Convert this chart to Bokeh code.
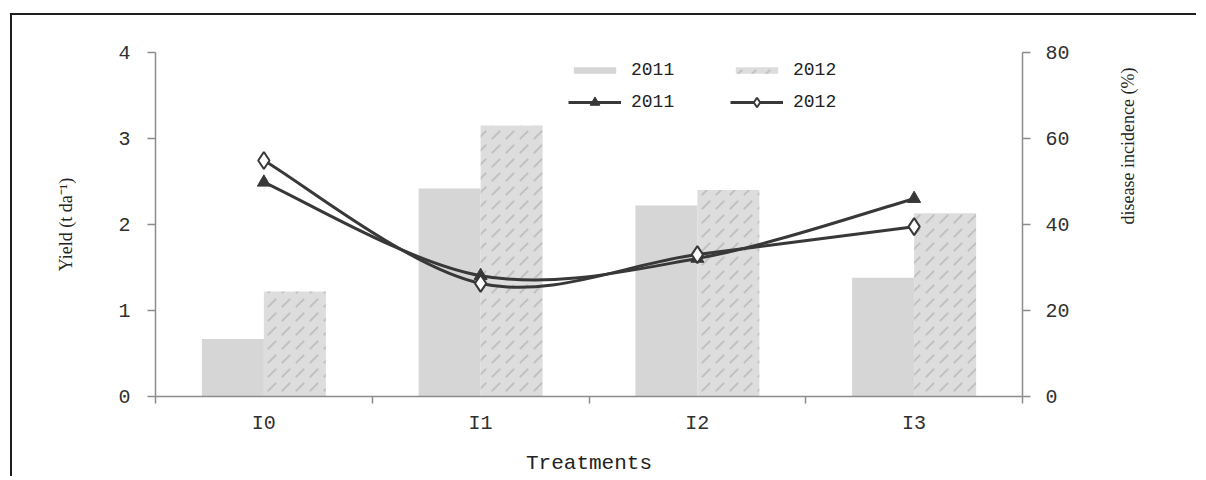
from math import pi
from bokeh.plotting import figure
from bokeh.models import Range1d, LinearAxis, FixedTicker, Legend, LegendItem
from bokeh.embed import file_html
from bokeh.resources import INLINE

# ---- data ----
treatments = ["I0", "I1", "I2", "I3"]
yield_2011 = [0.67, 2.42, 2.22, 1.38]
yield_2012 = [1.22, 3.15, 2.40, 2.13]
disease_2011 = [49.8, 28.1, 32.1, 46.0]
disease_2012 = [54.9, 26.3, 33.0, 39.5]
yield_ticks = [0, 1, 2, 3, 4]
disease_ticks = [0, 20, 40, 60, 80]
series_labels = ["2011", "2012"]

n = len(treatments)
centers = list(range(n))
bounds = [i - 0.5 for i in range(n + 1)]
bw = 0.286

MONO = "Liberation Mono"
SERIF = "Liberation Serif"
AX = "#8c8c8c"
LINE = "#383838"

p = figure(width=1186, height=463, x_range=Range1d(-0.5, n - 0.5),
           y_range=Range1d(0, 4), output_backend="svg", toolbar_location=None,
           min_border_left=143, min_border_right=176, min_border_top=37,
           min_border_bottom=82)
p.styles = {"margin-left": "10px", "margin-top": "13px",
            "border-left": "2px solid #1e1e1e", "border-top": "2px solid #1e1e1e"}
p.outline_line_color = None
p.grid.visible = False
p.background_fill_color = "white"

# bars
b1 = p.vbar(x=[c - bw / 2 for c in centers], top=yield_2011, width=bw,
            fill_color="#d6d6d6", line_color=None)
b2 = p.vbar(x=[c + bw / 2 for c in centers], top=yield_2012, width=bw,
            fill_color="#dddddd", line_color=None,
            hatch_pattern="right_diagonal_dash", hatch_color="#a6a6a6",
            hatch_alpha=0.5, hatch_scale=14, hatch_weight=2)

# right axis range
p.extra_y_ranges = {"dis": Range1d(0, 80)}


def smooth(xs, ys):
    m = len(xs)
    out = dict(x0=[], y0=[], x1=[], y1=[], cx0=[], cy0=[], cx1=[], cy1=[])
    for i in range(m - 1):
        a = i - 1 if i > 0 else i
        d = i + 2 if i + 2 < m else i + 1
        out["x0"].append(xs[i]); out["y0"].append(ys[i])
        out["x1"].append(xs[i + 1]); out["y1"].append(ys[i + 1])
        out["cx0"].append(xs[i] + (xs[i + 1] - xs[a]) / 6)
        out["cy0"].append(ys[i] + (ys[i + 1] - ys[a]) / 6)
        out["cx1"].append(xs[i + 1] - (xs[d] - xs[i]) / 6)
        out["cy1"].append(ys[i + 1] - (ys[d] - ys[i]) / 6)
    return out


c1 = p.bezier(line_color=LINE, line_width=3, y_range_name="dis", **smooth(centers, disease_2011))
c2 = p.bezier(line_color=LINE, line_width=3, y_range_name="dis", **smooth(centers, disease_2012))
m1 = p.scatter(centers, disease_2011, y_range_name="dis", marker="triangle", size=13,
               fill_color=LINE, line_color=LINE)
m2 = p.scatter(centers, disease_2012, y_range_name="dis", marker="diamond", size=17,
               fill_color="white", line_color=LINE, line_width=2)

# axes
xa = p.xaxis[0]
xa.ticker = FixedTicker(ticks=centers, minor_ticks=bounds)
xa.major_label_overrides = {c: t for c, t in zip(centers, treatments)}
xa.axis_line_color = AX
xa.axis_line_width = 1.5
xa.major_tick_line_color = None
xa.minor_tick_line_color = AX
xa.minor_tick_line_width = 1.5
xa.minor_tick_out = 7
xa.minor_tick_in = 0
xa.major_label_standoff = 8
xa.major_label_text_font = MONO
xa.major_label_text_font_size = "20px"
xa.major_label_text_color = "#303030"
xa.axis_label = "Treatments"
xa.axis_label_text_font = MONO
xa.axis_label_text_font_size = "21px"
xa.axis_label_text_font_style = "normal"
xa.axis_label_text_color = "#222222"
xa.axis_label_standoff = 14


def style_value_axis(ax, standoff):
    ax.axis_line_color = AX
    ax.axis_line_width = 1.5
    ax.major_tick_line_color = AX
    ax.major_tick_line_width = 1.5
    ax.major_tick_out = 8
    ax.major_tick_in = 0
    ax.minor_tick_line_color = None
    ax.major_label_standoff = standoff
    ax.major_label_text_font = MONO
    ax.major_label_text_font_size = "20px"
    ax.major_label_text_color = "#303030"


def title_axis(ax, text, size, standoff):
    # an axis without line or ticks that only carries a title
    ax.ticker = FixedTicker(ticks=[])
    ax.axis_line_color = None
    ax.major_tick_line_color = None
    ax.minor_tick_line_color = None
    ax.major_tick_out = 0
    ax.major_tick_in = 0
    ax.minor_tick_out = 0
    ax.minor_tick_in = 0
    ax.major_label_standoff = 0
    ax.axis_label = text
    ax.axis_label_text_font = SERIF
    ax.axis_label_text_font_size = size
    ax.axis_label_text_font_style = "normal"
    ax.axis_label_text_color = "#222222"
    ax.axis_label_standoff = standoff


ya = p.yaxis[0]
ya.ticker = FixedTicker(ticks=yield_ticks)
style_value_axis(ya, 17)

ra = LinearAxis(y_range_name="dis", ticker=FixedTicker(ticks=disease_ticks))
style_value_axis(ra, 15)
p.add_layout(ra, "right")

# axis titles
lt = LinearAxis(bounds=(0.56, 4.0))
title_axis(lt, "Yield (t da\u207b\u00b9)", "18px", 40)
p.add_layout(lt, "left")

rt = LinearAxis(y_range_name="dis", bounds=(0, 58.6))
title_axis(rt, "disease incidence (%)", "18px", 55)
if "axis_label_orientation" in rt.properties():
    rt.axis_label_orientation = pi / 2
p.add_layout(rt, "right")

common = dict(orientation="horizontal", label_standoff=10, label_width=86,
              label_height=20, spacing=13, padding=0, margin=0,
              border_line_color=None, background_fill_alpha=0,
              label_text_font=MONO, label_text_font_size="18px",
              label_text_color="#222222", glyph_width=53)

leg_bars = Legend(items=[
    LegendItem(label=series_labels[0], renderers=[b1]),
    LegendItem(label=series_labels[1], renderers=[b2]),
], location=(413, 316), glyph_height=8, **common)
leg_lines = Legend(items=[
    LegendItem(label=series_labels[0], renderers=[c1, m1]),
    LegendItem(label=series_labels[1], renderers=[c2, m2]),
], location=(413, 282), glyph_height=24, **common)
p.add_layout(leg_bars)
p.add_layout(leg_lines)

open("out.html", "w").write(file_html(p, INLINE))
